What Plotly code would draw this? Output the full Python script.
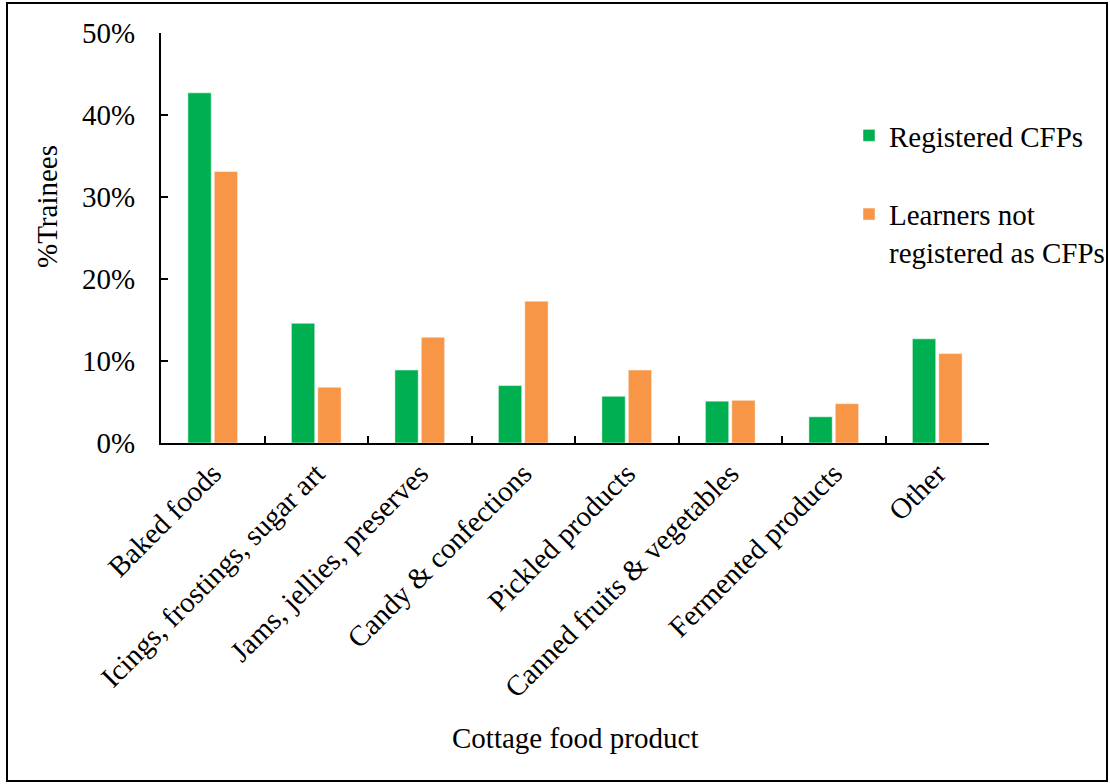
import plotly.graph_objects as go

categories = [
    "Baked foods",
    "Icings, frostings, sugar art",
    "Jams, jellies, preserves",
    "Candy & confections",
    "Pickled products",
    "Canned fruits & vegetables",
    "Fermented products",
    "Other",
]
registered = [42.7, 14.6, 8.9, 7.0, 5.7, 5.1, 3.2, 12.7]
not_registered = [33.1, 6.8, 12.9, 17.3, 8.9, 5.2, 4.8, 10.9]
y_ticks = [0, 10, 20, 30, 40, 50]
y_tick_labels = ["0%", "10%", "20%", "30%", "40%", "50%"]

FONT = "Liberation Serif"
FS = 29
GREEN = "#00B050"
ORANGE = "#F79646"

W, H = 1110, 784
L, R, T, B = 161, 121, 33, 341
pw, ph = W - L - R, H - T - B


def px_x(p):
    return (p - L) / pw


def px_y(p):
    return (H - B - p) / ph


fig = go.Figure()
fig.add_trace(go.Bar(
    x=categories, y=registered, name="Registered CFPs",
    marker=dict(color=GREEN, line=dict(color="rgba(255,255,255,0.6)", width=0.8)),
    legendgroup="a",
))
fig.add_trace(go.Bar(
    x=categories, y=not_registered, name="Learners not<br>registered as CFPs",
    marker=dict(color=ORANGE, line=dict(color="rgba(255,255,255,0.6)", width=0.8)),
    legendgroup="b",
))

fig.update_layout(
    width=W, height=H,
    margin=dict(l=L, r=R, t=T, b=B, autoexpand=False),
    paper_bgcolor="white", plot_bgcolor="white",
    font=dict(family=FONT, size=FS, color="black"),
    barmode="group", bargap=0.49, bargroupgap=0.115,
    showlegend=True,
    legend=dict(
        x=px_x(849), y=px_y(110), xanchor="left", yanchor="top",
        font=dict(family=FONT, size=FS, color="black"),
        tracegroupgap=38, itemwidth=30, valign="top", bgcolor="rgba(0,0,0,0)",
    ),
    xaxis=dict(
        showline=True, linecolor="black", linewidth=2,
        ticks="inside", tickson="boundaries", ticklen=7, tickwidth=2, tickcolor="black",
        tickangle=-45, tickfont=dict(family=FONT, size=FS),
        showgrid=False, zeroline=False,
    ),
    yaxis=dict(
        range=[0, 50], tickvals=y_ticks, ticktext=y_tick_labels,
        showline=True, linecolor="black", linewidth=2,
        ticks="inside", ticklen=7, tickwidth=2, tickcolor="black",
        ticklabelstandoff=18, tickfont=dict(family=FONT, size=FS),
        showgrid=False, zeroline=False,
    ),
    annotations=[
        dict(text="%Trainees", textangle=-90, x=px_x(47), y=px_y(207),
             xref="paper", yref="paper", xanchor="center", yanchor="middle",
             showarrow=False, font=dict(family=FONT, size=FS)),
        dict(text="Cottage food product", x=px_x(575), y=px_y(738),
             xref="paper", yref="paper", xanchor="center", yanchor="middle",
             showarrow=False, font=dict(family=FONT, size=FS)),
    ],
    shapes=[
        dict(type="rect", xref="paper", yref="paper",
             x0=px_x(7), x1=px_x(1107), y0=px_y(781), y1=px_y(3),
             line=dict(color="black", width=2), fillcolor="rgba(0,0,0,0)"),
    ],
)

fig.write_html("out.html")
